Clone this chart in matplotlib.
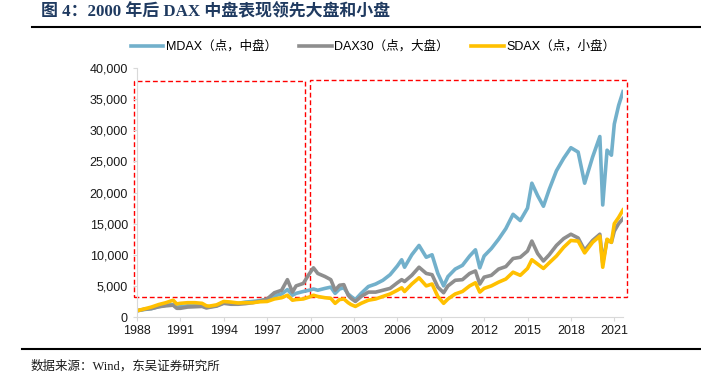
import numpy as np
import matplotlib.pyplot as plt
from matplotlib.lines import Line2D
from matplotlib.patches import Rectangle
from matplotlib.ticker import FuncFormatter

# Fechas (año decimal) y niveles
years = [1988.0, 1988.5, 1989.0, 1989.5, 1990.0, 1990.5, 1990.75, 1991.0, 1991.5, 1992.0,
         1992.5, 1992.8, 1993.0, 1993.5, 1994.0, 1994.5, 1995.0, 1995.5, 1996.0, 1996.5,
         1997.0, 1997.5, 1998.0, 1998.4, 1998.75, 1999.0, 1999.5, 1999.9, 2000.2, 2000.5,
         2001.0, 2001.4, 2001.7, 2002.0, 2002.3, 2002.6, 2002.8, 2003.1, 2003.5, 2004.0,
         2004.5, 2005.0, 2005.5, 2006.0, 2006.3, 2006.5, 2007.0, 2007.5, 2008.0, 2008.4,
         2008.8, 2009.2, 2009.5, 2010.0, 2010.5, 2011.0, 2011.4, 2011.7, 2012.0, 2012.5,
         2013.0, 2013.5, 2014.0, 2014.5, 2015.0, 2015.3, 2015.7, 2016.1, 2016.5, 2017.0,
         2017.5, 2018.0, 2018.5, 2018.95, 2019.5, 2020.0, 2020.2, 2020.5, 2020.8, 2021.0,
         2021.3, 2021.6]

dax30 = [1000, 1250, 1350, 1650, 1800, 1900, 1400, 1400, 1600, 1650,
         1700, 1450, 1550, 1750, 2200, 2050, 2050, 2150, 2300, 2550,
         2900, 3900, 4300, 6000, 4000, 5000, 5400, 6900, 7900, 7000,
         6500, 6000, 4300, 5100, 5200, 3500, 3000, 2500, 3300, 4000,
         4000, 4300, 4600, 5500, 6000, 5700, 6700, 8000, 7000, 6800,
         4800, 3900, 5000, 5900, 6000, 7000, 7400, 5300, 6400, 6700,
         7700, 8100, 9400, 9600, 10600, 12200, 10200, 9000, 10000, 11500,
         12600, 13300, 12700, 10700, 12300, 13300, 8700, 12400, 12000, 13800,
         15000, 15800]

mdax = [1000, 1200, 1350, 1650, 1900, 2000, 1600, 1650, 1800, 1800,
        1850, 1600, 1650, 1800, 2300, 2200, 2200, 2400, 2500, 2650,
        2850, 3400, 3700, 4400, 3500, 3800, 4100, 4300, 4500, 4300,
        4600, 4800, 3800, 4500, 4700, 3700, 3300, 2800, 3800, 4900,
        5300, 5900, 6800, 8200, 9200, 8000, 10000, 11500, 9600, 10000,
        7000, 5000, 6500, 7700, 8300, 9800, 10800, 7900, 9800, 11000,
        12500, 14200, 16500, 15500, 17500, 21500, 19500, 17800, 20500, 23500,
        25500, 27200, 26500, 21500, 25700, 29000, 18000, 26800, 26000, 31000,
        34000, 36200]

sdax = [1000, 1300, 1600, 2000, 2300, 2700, 2100, 2200, 2300, 2300,
        2200, 1800, 1750, 1950, 2500, 2400, 2250, 2300, 2300, 2450,
        2500, 2900, 3100, 3500, 2700, 2800, 2900, 3200, 3500, 3300,
        3100, 3000, 2200, 2800, 2900, 2300, 2000, 1700, 2200, 2700,
        2900, 3300, 3700, 4300, 4700, 4100, 5300, 6300, 5000, 5300,
        3300, 2200, 2900, 3700, 4100, 5000, 5500, 4000, 4600, 5000,
        5600, 6100, 7200, 6700, 7800, 9200, 8500, 7800, 8700, 9800,
        11200, 12300, 12200, 10300, 12000, 13000, 8000, 12500, 12000, 15000,
        16000, 17200]

x_ticks = list(range(1988, 2022, 3))
y_ticks = list(range(0, 40001, 5000))

serif_cjk = ['Liberation Serif', 'Noto Sans CJK SC']
sans_cjk = ['Liberation Sans', 'Noto Sans CJK SC']
plt.rcParams['font.family'] = sans_cjk

fig = plt.figure(figsize=(7.01, 3.83), dpi=100)
ax = fig.add_axes([0.1954, 0.1723, 0.6933, 0.650])

ax.plot(years, mdax, color='#72B0CB', lw=2.6, label='MDAX（点，中盘）')
ax.plot(years, dax30, color='#8E8E8E', lw=2.6, label='DAX30（点，大盘）')
ax.plot(years, sdax, color='#FFC000', lw=2.6, label='SDAX（点，小盘）')

# Recuadros rojos punteados que separan antes y después de 2000
for x0, x1, y0, y1 in [(1987.8, 1999.65, 3200, 37900), (1999.95, 2021.85, 3200, 38100)]:
    ax.add_patch(Rectangle((x0, y0), x1 - x0, y1 - y0, fill=False, edgecolor='#FF0000',
                           lw=1.0, ls=(0, (3.5, 2)), clip_on=False))

ax.set_xlim(1988, 2021.6)
ax.set_ylim(0, 40000)
ax.set_xticks(x_ticks)
ax.set_yticks(y_ticks)
ax.yaxis.set_major_formatter(FuncFormatter(lambda v, p: f'{int(v):,}'))
ax.tick_params(axis='both', labelsize=9, colors='#D9D9D9', labelcolor='#1a1a1a', length=3)
ax.tick_params(axis='x', pad=3)
for s in ['top', 'right']:
    ax.spines[s].set_visible(False)
for s in ['left', 'bottom']:
    ax.spines[s].set_color('#D9D9D9')

ax.legend(loc='center', bbox_to_anchor=(0.486, 1.085), ncol=3, frameon=False, fontsize=9,
          handlelength=2.6, handletextpad=0.2, columnspacing=1.8)

# Título, líneas separadoras y fuente
fig.text(0.058, 0.969, '图 4：2000 年后 DAX 中盘表现领先大盘和小盘', family=serif_cjk,
         fontsize=12.2, fontweight='bold', color='#1F3A60', va='center', ha='left')
fig.add_artist(Line2D([0.046, 0.999], [1 - 27 / 383] * 2, color='black', lw=1.5))
fig.add_artist(Line2D([0.031, 0.999], [1 - 349 / 383] * 2, color='black', lw=1.5))
fig.text(0.043, 1 - 366 / 383, '数据来源：Wind，东吴证券研究所', family=serif_cjk,
         fontsize=9, color='#1a1a1a', va='center', ha='left')

plt.savefig('out.png', dpi=100)
